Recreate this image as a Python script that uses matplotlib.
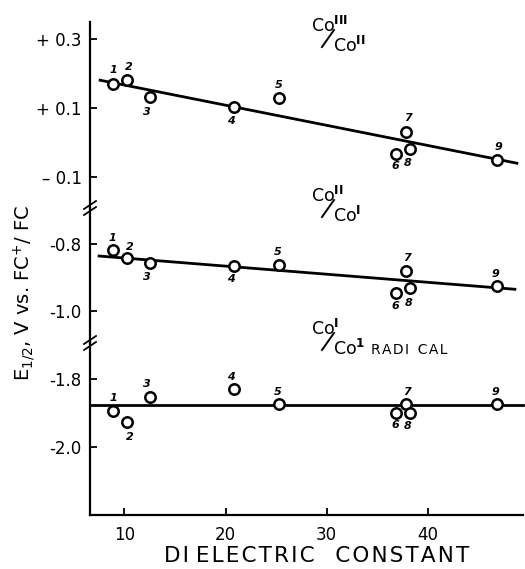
import matplotlib.pyplot as plt
from matplotlib.ticker import FuncFormatter

# dielectric constants of the nine solvents
eps = [8.9, 10.3, 12.5, 20.8, 25.3, 36.85, 37.8, 38.2, 46.8]
ids = ['1', '2', '3', '4', '5', '6', '7', '8', '9']

# E1/2 values (V vs Fc+/Fc) for each couple
e_32 = [0.171, 0.183, 0.133, 0.102, 0.129, -0.033, 0.030, -0.018, -0.050]
e_21 = [-0.818, -0.841, -0.856, -0.866, -0.864, -0.947, -0.881, -0.932, -0.924]
e_1r = [-1.896, -1.926, -1.855, -1.831, -1.875, -1.900, -1.875, -1.900, -1.875]

# drawn trend lines (end points)
fit_32_x, fit_32_y = [7.6, 48.8], [0.181, -0.060]
fit_21_x, fit_21_y = [7.5, 48.6], [-0.836, -0.935]
fit_1r_x, fit_1r_y = [6.6, 49.4], [-1.877, -1.877]

# label offsets (pixels) for the point numbers in each panel
off_32 = [(0, 14), (1, 13), (-3, -15), (-3, -14), (0, 13), (-1, -12), (2, 14), (-2, -14), (2, 13)]
off_21 = [(-1, 12), (2, 11), (-3, -14), (-3, -13), (-1, 13), (-1, -13), (1, 13), (-1, -15), (-1, 12)]
off_1r = [(0, 13), (2, -15), (-3, 13), (-3, 12), (-1, 12), (-1, -12), (1, 12), (-2, -13), (-1, 12)]

W, H = 525, 569
fig = plt.figure(figsize=(W / 100, H / 100), dpi=100)

def fy(px):
    return 1 - px / H

left, right = 90 / W, 523 / W
panels = [
    (22, 208, (-0.19, 0.35), [0.3, 0.1, -0.1], e_32, fit_32_x, fit_32_y, off_32),
    (208, 343, (-1.095, -0.693), [-0.8, -1.0], e_21, fit_21_x, fit_21_y, off_21),
    (343, 515, (-2.2, -1.695), [-1.8, -2.0], e_1r, fit_1r_x, fit_1r_y, off_1r),
]

def fmt_top(v, pos):
    return ('+ ' if v > 0 else '\u2013 ') + '%.1f' % abs(v)

for i, (t, b, ylim, ticks, vals, fx, fyv, offs) in enumerate(panels):
    ax = fig.add_axes([left, fy(b), right - left, (b - t) / H])
    ax.set_xlim(6.6, 49.4)
    ax.set_ylim(*ylim)
    for s in ['top', 'right']:
        ax.spines[s].set_visible(False)
    ax.spines['left'].set_linewidth(1.6)
    ax.spines['bottom'].set_linewidth(1.6)
    if i < 2:
        ax.spines['bottom'].set_visible(False)
        ax.set_xticks([])
    else:
        ax.set_xticks([10, 20, 30, 40])
        ax.tick_params(axis='x', direction='in', length=5, width=1.3, pad=8, labelsize=12)
    ax.set_yticks(ticks)
    if i == 0:
        ax.yaxis.set_major_formatter(FuncFormatter(fmt_top))
    else:
        ax.yaxis.set_major_formatter(FuncFormatter(lambda v, p: '-%.1f' % abs(v)))
    ax.tick_params(axis='y', direction='in', length=5, width=1.3, pad=6, labelsize=12)
    ax.patch.set_alpha(0)

    ax.plot(fx, fyv, color='black', lw=2.0, clip_on=False, zorder=2)
    ax.plot(eps, vals, 'o', ms=7.5, mfc='white', mec='black', mew=1.8, zorder=3, clip_on=False)
    for x, y, lab, (dx, dy) in zip(eps, vals, ids, offs):
        ax.annotate(lab, (x, y), xytext=(dx * 0.72, dy * 0.72), textcoords='offset points',
                    ha='center', va='center', fontsize=8, fontstyle='italic', fontweight='bold')

# axis break marks on the left spine
for yb in [208, 343]:
    for d in [-3, 3]:
        fig.add_artist(plt.Line2D([left - 6 / W, left + 6 / W],
                                  [fy(yb + d + 4), fy(yb + d - 4)],
                                  color='black', lw=1.3))

# couple labels
def couple(x, y, top, bot, extra=None):
    fig.text(x / W, fy(y), 'Co$^{\\mathbf{%s}}$' % top, fontsize=12.5, ha='left', va='center')
    fig.add_artist(plt.Line2D([(x + 11) / W, (x + 23) / W], [fy(y + 21), fy(y + 4)],
                              color='black', lw=1.4))
    fig.text((x + 22) / W, fy(y + 20), 'Co$^{\\mathbf{%s}}$' % bot, fontsize=12.5,
             ha='left', va='center')
    if extra:
        fig.text((x + 60) / W, fy(y + 21), extra, fontsize=10, ha='left', va='center')

couple(311, 26, 'III', 'II')
couple(311, 196, 'II', 'I')
couple(311, 329, 'I', '1', 'R\u200aA\u200aD\u200aI  C\u200aA\u200aL')

fig.text(0.048, fy(293), 'E$_{1/2}$, V vs. FC$^{+}$/ FC', rotation=90, fontsize=14,
         ha='center', va='center')

xlab = '\u200a'.join('DI') + ' ' + '\u200a'.join('ELECTRIC') + '   ' + '\u200a'.join('CONSTANT')
fig.text(317 / W, fy(556), xlab, fontsize=15.5, ha='center', va='center')

fig.savefig('out.png', dpi=100)
